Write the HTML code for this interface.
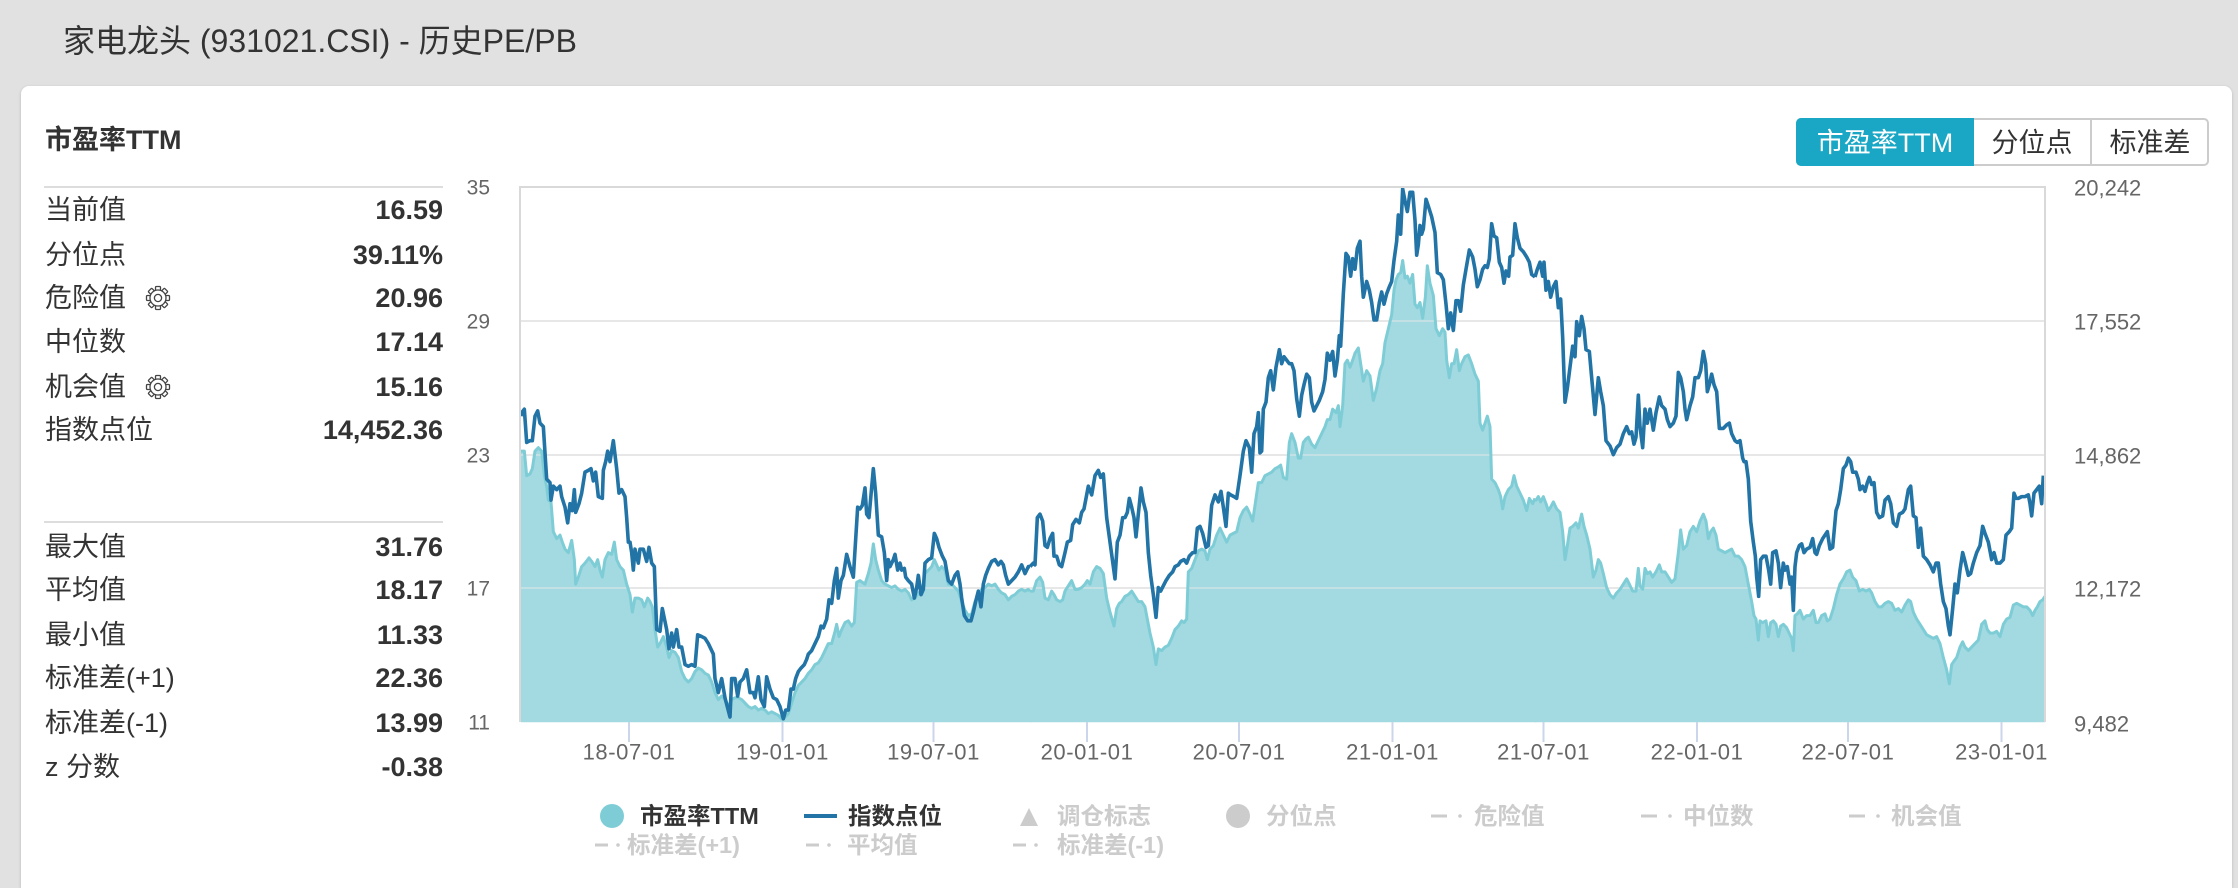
<!DOCTYPE html>
<html><head><meta charset="utf-8"><style>
html,body{margin:0;padding:0;width:2238px;height:888px;overflow:hidden;background:#e1e1e1;position:relative;}
.card{position:absolute;left:21px;top:86px;width:2211px;height:802px;background:#fff;border-radius:8px 8px 0 0;box-shadow:0 1px 3px rgba(0,0,0,.18);}
svg{position:absolute;left:0;top:0;}
text{font-family:"Liberation Sans","Noto Sans CJK SC",sans-serif;}
.ax{font-family:"DejaVu Sans","Liberation Sans",sans-serif;fill:#666;}
</style></head><body>
<div class="card"></div>
<svg width="2238" height="888" viewBox="0 0 2238 888">
<text x="63" y="41" dominant-baseline="central" font-size="32" fill="#333">家电龙头 (931021.CSI) - 历史PE/PB</text>
<text x="45" y="140" dominant-baseline="central" font-size="27" font-weight="700" fill="#333">市盈率TTM</text>

<!-- left stats -->
<line x1="44" y1="187" x2="443" y2="187" stroke="#ddd" stroke-width="2"/>
<line x1="44" y1="522" x2="443" y2="522" stroke="#ddd" stroke-width="2"/>
<g font-size="27" fill="#333" dominant-baseline="central">
<text x="45" y="210">当前值</text>
<text x="45" y="255">分位点</text>
<text x="45" y="298">危险值</text>
<text x="45" y="342">中位数</text>
<text x="45" y="387">机会值</text>
<text x="45" y="430">指数点位</text>
<text x="45" y="547">最大值</text>
<text x="45" y="590">平均值</text>
<text x="45" y="635">最小值</text>
<text x="45" y="678">标准差(+1)</text>
<text x="45" y="723">标准差(-1)</text>
<text x="45" y="767">z 分数</text>
</g>
<g font-size="27" font-weight="700" fill="#333" dominant-baseline="central" text-anchor="end">
<text x="443" y="210">16.59</text>
<text x="443" y="255">39.11%</text>
<text x="443" y="298">20.96</text>
<text x="443" y="342">17.14</text>
<text x="443" y="387">15.16</text>
<text x="443" y="430">14,452.36</text>
<text x="443" y="547">31.76</text>
<text x="443" y="590">18.17</text>
<text x="443" y="635">11.33</text>
<text x="443" y="678">22.36</text>
<text x="443" y="723">13.99</text>
<text x="443" y="767">-0.38</text>
</g>
<g transform="translate(158,298)" stroke="#444" stroke-width="1.3">
<g fill="#fff"><rect x="-2.5" y="-11.5" width="5" height="5.5" rx="1"/><rect x="-2.5" y="-11.5" width="5" height="5.5" rx="1" transform="rotate(45)"/><rect x="-2.5" y="-11.5" width="5" height="5.5" rx="1" transform="rotate(90)"/><rect x="-2.5" y="-11.5" width="5" height="5.5" rx="1" transform="rotate(135)"/><rect x="-2.5" y="-11.5" width="5" height="5.5" rx="1" transform="rotate(180)"/><rect x="-2.5" y="-11.5" width="5" height="5.5" rx="1" transform="rotate(225)"/><rect x="-2.5" y="-11.5" width="5" height="5.5" rx="1" transform="rotate(270)"/><rect x="-2.5" y="-11.5" width="5" height="5.5" rx="1" transform="rotate(315)"/></g>
<circle r="8" fill="#fff"/><circle r="3.6" fill="none"/>
</g>
<g transform="translate(158,387)" stroke="#444" stroke-width="1.3">
<g fill="#fff"><rect x="-2.5" y="-11.5" width="5" height="5.5" rx="1"/><rect x="-2.5" y="-11.5" width="5" height="5.5" rx="1" transform="rotate(45)"/><rect x="-2.5" y="-11.5" width="5" height="5.5" rx="1" transform="rotate(90)"/><rect x="-2.5" y="-11.5" width="5" height="5.5" rx="1" transform="rotate(135)"/><rect x="-2.5" y="-11.5" width="5" height="5.5" rx="1" transform="rotate(180)"/><rect x="-2.5" y="-11.5" width="5" height="5.5" rx="1" transform="rotate(225)"/><rect x="-2.5" y="-11.5" width="5" height="5.5" rx="1" transform="rotate(270)"/><rect x="-2.5" y="-11.5" width="5" height="5.5" rx="1" transform="rotate(315)"/></g>
<circle r="8" fill="#fff"/><circle r="3.6" fill="none"/>
</g>

<!-- toggle buttons -->
<rect x="1797" y="119" width="411" height="46" rx="4" fill="#fff" stroke="#ccc" stroke-width="2"/>
<path d="M1801,118 H1974 V166 H1801 A5,5 0 0 1 1796,161 V123 A5,5 0 0 1 1801,118 Z" fill="#19a7c5"/>
<line x1="2091" y1="119" x2="2091" y2="165" stroke="#ccc" stroke-width="2"/>
<g font-size="27" dominant-baseline="central" text-anchor="middle">
<text x="1885" y="143" fill="#fff">市盈率TTM</text>
<text x="2032" y="143" fill="#333">分位点</text>
<text x="2150" y="143" fill="#333">标准差</text>
</g>

<!-- plot -->
<rect x="520" y="187" width="1525" height="535" fill="#fff"/>
<g stroke="#e3e3e3" stroke-width="2">
<line x1="520" y1="321" x2="2045" y2="321"/><line x1="520" y1="455" x2="2045" y2="455"/><line x1="520" y1="588" x2="2045" y2="588"/>
</g>

<g transform="translate(515,187) scale(0.333333,0.34987) translate(0,-15)">
<polygon fill="#a3d9e1" points="18,770 20,770 28,770 35,840 45,835 52,820 60,770 70,760 80,770 88,840 95,870 100,910 108,915 115,1000 125,1020 135,1010 142,1030 150,1050 160,1060 170,1025 178,1080 182,1150 190,1130 200,1100 210,1090 222,1075 230,1085 240,1100 248,1080 255,1110 262,1130 270,1080 280,1060 290,1065 298,1030 305,1080 315,1100 325,1110 335,1150 345,1180 352,1230 360,1190 370,1190 380,1195 388,1215 398,1190 405,1200 412,1215 420,1280 428,1330 435,1320 445,1300 455,1330 462,1360 470,1340 480,1345 490,1360 500,1400 510,1420 520,1430 530,1420 540,1400 550,1390 560,1395 570,1405 580,1410 590,1430 600,1460 610,1480 620,1470 630,1480 640,1500 650,1480 660,1475 670,1475 680,1480 690,1490 700,1500 710,1505 720,1500 730,1510 740,1505 750,1510 760,1520 770,1515 780,1520 790,1525 800,1535 810,1530 820,1520 830,1490 840,1460 850,1440 860,1430 870,1420 880,1405 890,1395 900,1380 910,1375 920,1360 930,1340 940,1320 950,1320 960,1285 965,1265 972,1300 980,1280 990,1260 1000,1255 1010,1270 1018,1260 1025,1145 1035,1140 1050,1150 1060,1120 1068,1090 1075,1035 1082,1080 1090,1110 1100,1140 1110,1150 1120,1155 1130,1160 1140,1155 1150,1165 1160,1170 1170,1165 1180,1175 1190,1195 1200,1190 1210,1175 1220,1180 1230,1120 1240,1110 1250,1100 1258,1080 1265,1095 1272,1110 1280,1100 1290,1110 1300,1150 1310,1150 1320,1160 1330,1170 1340,1200 1350,1225 1360,1240 1370,1235 1380,1200 1390,1180 1400,1165 1410,1160 1420,1150 1430,1155 1440,1150 1450,1165 1460,1175 1470,1180 1480,1195 1490,1185 1500,1180 1510,1170 1520,1165 1530,1170 1540,1165 1548,1170 1548,1545 18,1545"/>
</g>
<g transform="translate(1030,187) scale(0.333333,0.34987) translate(0,-15)">
<polygon fill="#a3d9e1" points="0,1170 10,1170 20,1140 30,1130 38,1145 45,1190 55,1195 65,1170 72,1180 80,1195 90,1200 98,1195 105,1170 115,1155 125,1140 135,1165 145,1165 155,1160 165,1150 172,1140 180,1150 190,1115 200,1100 210,1105 220,1120 230,1190 240,1230 252,1270 260,1220 268,1205 275,1200 285,1185 295,1180 305,1170 315,1185 325,1200 335,1200 345,1215 352,1250 360,1290 370,1330 378,1380 385,1335 395,1340 405,1330 415,1325 425,1305 435,1280 445,1270 455,1255 462,1260 470,1250 475,1115 485,1105 495,1080 505,1055 515,1050 525,1055 532,1080 540,1050 550,1040 560,1010 570,990 580,1010 590,1030 600,1010 610,1005 620,1000 630,960 640,940 650,930 660,950 668,970 675,925 685,860 695,860 705,840 715,835 725,830 735,820 745,815 752,810 760,845 770,850 778,745 785,720 795,745 805,790 812,790 820,745 828,735 835,730 845,750 855,760 865,740 875,720 885,700 892,680 900,680 908,650 918,660 925,640 930,700 938,640 945,520 952,510 960,530 968,510 975,490 985,475 992,520 1000,570 1010,540 1020,555 1030,625 1040,590 1050,540 1058,520 1065,460 1075,420 1085,380 1092,310 1098,280 1105,265 1112,260 1118,225 1125,275 1132,270 1140,290 1148,265 1155,350 1162,360 1170,345 1178,390 1186,330 1192,240 1200,290 1210,325 1218,420 1228,440 1238,420 1245,430 1250,510 1258,560 1265,520 1272,520 1280,480 1288,540 1295,520 1305,500 1315,495 1325,520 1335,550 1345,570 1350,690 1358,710 1365,690 1372,670 1380,700 1385,850 1395,860 1405,880 1412,900 1418,935 1425,900 1435,880 1445,870 1452,840 1460,870 1470,890 1480,910 1490,940 1498,905 1508,920 1518,905 1518,1545 0,1545"/>
</g>
<g transform="translate(1530,187) scale(0.333333,0.34987) translate(0,-15)">
<polygon fill="#a3d9e1" points="15,905 18,910 25,900 32,915 40,900 48,920 55,940 62,930 70,915 80,935 90,945 98,1000 105,1080 112,1040 120,990 128,985 138,975 145,990 155,950 162,985 170,1010 180,1050 190,1130 198,1110 205,1080 212,1090 220,1120 230,1160 240,1180 250,1190 260,1175 270,1165 280,1150 290,1135 298,1150 308,1170 318,1170 325,1105 330,1155 338,1165 345,1105 352,1120 360,1115 368,1130 378,1115 388,1095 395,1115 405,1115 415,1130 425,1145 435,1135 445,1060 452,995 460,1050 470,1040 480,1000 490,985 500,1000 510,970 520,950 528,970 535,1020 542,1000 550,990 558,1010 565,1050 575,1055 585,1060 595,1055 605,1050 615,1070 625,1070 635,1080 645,1100 655,1150 665,1200 672,1240 678,1250 685,1310 690,1255 698,1260 708,1255 715,1300 722,1260 730,1255 738,1265 745,1300 752,1270 760,1265 770,1275 780,1295 785,1305 790,1340 795,1240 802,1235 810,1225 820,1250 830,1240 840,1240 850,1225 858,1260 865,1260 875,1240 885,1235 892,1255 900,1250 910,1220 920,1180 930,1150 940,1135 950,1115 960,1110 968,1130 978,1140 988,1170 998,1165 1008,1170 1018,1165 1025,1175 1035,1200 1045,1215 1055,1215 1065,1205 1075,1200 1085,1205 1095,1225 1105,1220 1115,1230 1125,1210 1135,1195 1142,1200 1150,1230 1160,1250 1170,1265 1180,1280 1190,1295 1200,1300 1210,1305 1220,1300 1230,1320 1240,1360 1250,1395 1258,1435 1265,1380 1272,1370 1280,1360 1290,1330 1298,1315 1305,1330 1315,1340 1325,1330 1335,1320 1345,1310 1355,1265 1365,1255 1372,1280 1380,1290 1390,1290 1400,1285 1410,1300 1420,1265 1430,1250 1440,1245 1450,1210 1460,1205 1470,1210 1480,1215 1490,1215 1500,1225 1508,1240 1515,1225 1522,1215 1530,1200 1538,1195 1545,1185 1545,1545 15,1545"/>
</g>

<!-- faint gridlines over area -->
<g stroke="rgba(235,235,235,0.45)" stroke-width="2">
<line x1="520" y1="321" x2="2045" y2="321"/><line x1="520" y1="455" x2="2045" y2="455"/><line x1="520" y1="588" x2="2045" y2="588"/>
</g>

<!-- PE lines -->
<g fill="none" stroke="#7ecdd6" stroke-width="3" stroke-linejoin="round">
<polyline vector-effect="non-scaling-stroke" transform="translate(515,187) scale(0.333333,0.34987) translate(0,-15)" points="18,770 20,770 28,770 35,840 45,835 52,820 60,770 70,760 80,770 88,840 95,870 100,910 108,915 115,1000 125,1020 135,1010 142,1030 150,1050 160,1060 170,1025 178,1080 182,1150 190,1130 200,1100 210,1090 222,1075 230,1085 240,1100 248,1080 255,1110 262,1130 270,1080 280,1060 290,1065 298,1030 305,1080 315,1100 325,1110 335,1150 345,1180 352,1230 360,1190 370,1190 380,1195 388,1215 398,1190 405,1200 412,1215 420,1280 428,1330 435,1320 445,1300 455,1330 462,1360 470,1340 480,1345 490,1360 500,1400 510,1420 520,1430 530,1420 540,1400 550,1390 560,1395 570,1405 580,1410 590,1430 600,1460 610,1480 620,1470 630,1480 640,1500 650,1480 660,1475 670,1475 680,1480 690,1490 700,1500 710,1505 720,1500 730,1510 740,1505 750,1510 760,1520 770,1515 780,1520 790,1525 800,1535 810,1530 820,1520 830,1490 840,1460 850,1440 860,1430 870,1420 880,1405 890,1395 900,1380 910,1375 920,1360 930,1340 940,1320 950,1320 960,1285 965,1265 972,1300 980,1280 990,1260 1000,1255 1010,1270 1018,1260 1025,1145 1035,1140 1050,1150 1060,1120 1068,1090 1075,1035 1082,1080 1090,1110 1100,1140 1110,1150 1120,1155 1130,1160 1140,1155 1150,1165 1160,1170 1170,1165 1180,1175 1190,1195 1200,1190 1210,1175 1220,1180 1230,1120 1240,1110 1250,1100 1258,1080 1265,1095 1272,1110 1280,1100 1290,1110 1300,1150 1310,1150 1320,1160 1330,1170 1340,1200 1350,1225 1360,1240 1370,1235 1380,1200 1390,1180 1400,1165 1410,1160 1420,1150 1430,1155 1440,1150 1450,1165 1460,1175 1470,1180 1480,1195 1490,1185 1500,1180 1510,1170 1520,1165 1530,1170 1540,1165 1545,1170"/>
<polyline vector-effect="non-scaling-stroke" transform="translate(1030,187) scale(0.333333,0.34987) translate(0,-15)" points="0,1170 10,1170 20,1140 30,1130 38,1145 45,1190 55,1195 65,1170 72,1180 80,1195 90,1200 98,1195 105,1170 115,1155 125,1140 135,1165 145,1165 155,1160 165,1150 172,1140 180,1150 190,1115 200,1100 210,1105 220,1120 230,1190 240,1230 252,1270 260,1220 268,1205 275,1200 285,1185 295,1180 305,1170 315,1185 325,1200 335,1200 345,1215 352,1250 360,1290 370,1330 378,1380 385,1335 395,1340 405,1330 415,1325 425,1305 435,1280 445,1270 455,1255 462,1260 470,1250 475,1115 485,1105 495,1080 505,1055 515,1050 525,1055 532,1080 540,1050 550,1040 560,1010 570,990 580,1010 590,1030 600,1010 610,1005 620,1000 630,960 640,940 650,930 660,950 668,970 675,925 685,860 695,860 705,840 715,835 725,830 735,820 745,815 752,810 760,845 770,850 778,745 785,720 795,745 805,790 812,790 820,745 828,735 835,730 845,750 855,760 865,740 875,720 885,700 892,680 900,680 908,650 918,660 925,640 930,700 938,640 945,520 952,510 960,530 968,510 975,490 985,475 992,520 1000,570 1010,540 1020,555 1030,625 1040,590 1050,540 1058,520 1065,460 1075,420 1085,380 1092,310 1098,280 1105,265 1112,260 1118,225 1125,275 1132,270 1140,290 1148,265 1155,350 1162,360 1170,345 1178,390 1186,330 1192,240 1200,290 1210,325 1218,420 1228,440 1238,420 1245,430 1250,510 1258,560 1265,520 1272,520 1280,480 1288,540 1295,520 1305,500 1315,495 1325,520 1335,550 1345,570 1350,690 1358,710 1365,690 1372,670 1380,700 1385,850 1395,860 1405,880 1412,900 1418,935 1425,900 1435,880 1445,870 1452,840 1460,870 1470,890 1480,910 1490,940 1498,905 1508,920 1515,905"/>
<polyline vector-effect="non-scaling-stroke" transform="translate(1530,187) scale(0.333333,0.34987) translate(0,-15)" points="15,905 18,910 25,900 32,915 40,900 48,920 55,940 62,930 70,915 80,935 90,945 98,1000 105,1080 112,1040 120,990 128,985 138,975 145,990 155,950 162,985 170,1010 180,1050 190,1130 198,1110 205,1080 212,1090 220,1120 230,1160 240,1180 250,1190 260,1175 270,1165 280,1150 290,1135 298,1150 308,1170 318,1170 325,1105 330,1155 338,1165 345,1105 352,1120 360,1115 368,1130 378,1115 388,1095 395,1115 405,1115 415,1130 425,1145 435,1135 445,1060 452,995 460,1050 470,1040 480,1000 490,985 500,1000 510,970 520,950 528,970 535,1020 542,1000 550,990 558,1010 565,1050 575,1055 585,1060 595,1055 605,1050 615,1070 625,1070 635,1080 645,1100 655,1150 665,1200 672,1240 678,1250 685,1310 690,1255 698,1260 708,1255 715,1300 722,1260 730,1255 738,1265 745,1300 752,1270 760,1265 770,1275 780,1295 785,1305 790,1340 795,1240 802,1235 810,1225 820,1250 830,1240 840,1240 850,1225 858,1260 865,1260 875,1240 885,1235 892,1255 900,1250 910,1220 920,1180 930,1150 940,1135 950,1115 960,1110 968,1130 978,1140 988,1170 998,1165 1008,1170 1018,1165 1025,1175 1035,1200 1045,1215 1055,1215 1065,1205 1075,1200 1085,1205 1095,1225 1105,1220 1115,1230 1125,1210 1135,1195 1142,1200 1150,1230 1160,1250 1170,1265 1180,1280 1190,1295 1200,1300 1210,1305 1220,1300 1230,1320 1240,1360 1250,1395 1258,1435 1265,1380 1272,1370 1280,1360 1290,1330 1298,1315 1305,1330 1315,1340 1325,1330 1335,1320 1345,1310 1355,1265 1365,1255 1372,1280 1380,1290 1390,1290 1400,1285 1410,1300 1420,1265 1430,1250 1440,1245 1450,1210 1460,1205 1470,1210 1480,1215 1490,1215 1500,1225 1508,1240 1515,1225 1522,1215 1530,1200 1538,1195 1545,1185"/>
</g>

<!-- index line -->
<g fill="none" stroke="#2174a5" stroke-width="3.6" stroke-linejoin="round">
<polyline vector-effect="non-scaling-stroke" transform="translate(515,187) scale(0.333333,0.34987) translate(0,-15)" points="18,670 20,660 28,650 35,745 45,740 52,740 60,670 68,655 75,690 85,700 95,850 105,860 108,910 115,870 125,880 135,870 140,900 150,930 158,975 165,920 172,940 178,880 182,945 192,920 200,890 210,830 220,825 228,820 235,855 242,830 250,900 262,905 265,825 272,800 278,770 285,800 295,740 305,820 312,890 320,880 330,900 335,960 340,1030 345,1030 350,1060 355,1110 360,1050 370,1090 375,1050 385,1050 395,1085 402,1045 410,1090 418,1100 425,1280 435,1285 442,1220 455,1280 462,1335 470,1290 475,1330 485,1280 492,1330 500,1330 510,1380 520,1385 530,1380 540,1385 548,1295 560,1300 570,1305 580,1320 595,1350 600,1420 610,1460 620,1420 630,1475 645,1530 650,1420 660,1420 668,1470 675,1430 685,1420 695,1395 705,1460 715,1460 720,1475 730,1415 738,1480 748,1500 755,1415 765,1450 775,1475 785,1480 795,1500 805,1535 812,1510 820,1510 828,1450 835,1450 842,1420 850,1400 858,1390 868,1380 875,1365 880,1350 890,1340 900,1320 910,1300 918,1270 925,1275 935,1250 942,1195 950,1205 958,1140 965,1105 970,1190 978,1140 985,1125 995,1065 1005,1100 1015,1130 1028,930 1035,935 1042,925 1050,875 1055,950 1062,960 1068,895 1075,820 1082,890 1090,1010 1100,1015 1108,1060 1115,1140 1120,1080 1125,1100 1135,1080 1140,1065 1148,1110 1155,1090 1160,1110 1168,1105 1172,1130 1180,1140 1190,1150 1198,1190 1205,1160 1210,1125 1218,1180 1225,1165 1230,1090 1240,1080 1250,1075 1258,1005 1265,1020 1272,1045 1282,1070 1290,1085 1300,1140 1310,1150 1320,1125 1328,1115 1335,1150 1340,1190 1348,1240 1358,1255 1368,1255 1375,1230 1382,1200 1390,1170 1398,1215 1405,1150 1412,1125 1420,1105 1430,1085 1440,1080 1450,1095 1458,1085 1465,1095 1472,1125 1480,1150 1490,1140 1500,1130 1510,1115 1520,1095 1530,1120 1540,1100 1545,1100"/>
<polyline vector-effect="non-scaling-stroke" transform="translate(1030,187) scale(0.333333,0.34987) translate(0,-15)" points="0,1100 10,1090 15,1095 22,960 30,950 38,970 45,1040 52,1045 60,1020 68,1005 72,1070 80,1070 88,1095 95,1100 105,1060 112,1030 122,1025 128,980 138,965 148,975 155,945 162,935 168,905 175,870 185,895 195,840 205,825 212,845 220,835 230,960 245,1065 255,1135 262,1030 270,1010 278,960 285,960 292,945 298,905 305,930 312,960 318,1015 325,950 333,875 340,915 348,945 355,1060 362,1125 370,1180 378,1245 385,1160 392,1170 400,1155 408,1140 418,1125 428,1115 435,1100 445,1095 452,1085 462,1080 470,1090 478,1070 488,1060 495,1060 502,990 510,985 518,1005 528,1045 535,1040 545,925 555,895 565,915 573,885 580,930 588,985 595,890 602,895 612,900 620,905 630,840 640,770 648,740 658,760 665,830 672,720 680,700 685,660 690,775 695,770 700,650 708,630 715,560 722,540 730,595 738,530 748,480 755,520 762,500 770,510 778,520 785,520 792,540 800,620 808,670 815,610 822,580 830,550 838,560 845,630 852,655 860,640 868,625 878,600 885,565 892,490 900,510 908,485 915,555 922,510 928,440 932,470 940,320 948,205 955,215 962,270 968,220 975,250 982,190 990,170 995,270 1000,330 1010,285 1018,310 1025,345 1032,395 1040,395 1048,345 1055,315 1062,350 1070,320 1078,300 1085,285 1092,225 1100,170 1105,95 1112,150 1118,20 1125,55 1132,85 1140,30 1148,30 1155,110 1160,210 1165,180 1170,125 1175,150 1180,135 1188,50 1195,70 1205,100 1215,145 1222,260 1232,265 1240,280 1248,350 1255,420 1262,375 1270,425 1278,340 1285,340 1292,370 1300,295 1308,250 1318,195 1328,215 1335,250 1342,300 1350,280 1358,250 1365,240 1372,245 1378,220 1385,120 1392,155 1400,160 1408,230 1415,245 1422,290 1428,255 1436,270 1440,215 1448,210 1455,120 1462,160 1470,190 1480,200 1490,215 1498,230 1505,265 1515,272"/>
<polyline vector-effect="non-scaling-stroke" transform="translate(1530,187) scale(0.333333,0.34987) translate(0,-15)" points="15,272 22,250 30,230 38,270 42,230 48,310 55,285 62,330 70,300 78,285 85,360 92,335 98,445 105,630 112,590 120,530 128,470 135,500 140,400 148,440 155,385 162,420 168,480 178,485 185,560 195,665 205,560 212,600 220,640 228,740 240,755 250,780 260,760 270,750 280,720 290,700 298,720 305,715 312,750 318,730 325,610 330,700 338,760 345,650 352,690 360,650 370,710 378,660 388,615 395,640 405,650 412,680 420,700 430,690 438,670 445,545 452,560 460,600 465,650 470,680 480,640 488,615 495,560 505,560 512,540 520,485 527,520 532,600 538,580 545,550 552,580 560,600 568,705 580,705 590,695 598,690 605,720 615,740 622,745 630,740 638,790 642,800 648,800 655,850 662,970 670,1030 676,1070 680,1130 686,1185 692,1080 700,1070 708,1070 716,1110 722,1150 728,1060 738,1055 745,1090 752,1160 760,1090 765,1110 772,1100 780,1150 785,1130 790,1225 795,1100 800,1060 808,1040 815,1035 822,1060 830,1050 840,1045 848,1020 855,1060 860,1065 868,1040 878,1020 885,1010 892,1000 900,1050 908,1045 918,940 925,920 932,880 940,820 948,810 955,790 962,800 968,830 978,830 985,850 990,880 998,870 1005,885 1012,860 1018,845 1025,865 1032,860 1040,945 1048,960 1058,955 1065,910 1075,900 1082,920 1090,975 1100,985 1108,950 1118,945 1125,935 1135,880 1142,870 1150,955 1158,960 1165,1045 1172,990 1180,1070 1190,1080 1200,1095 1210,1115 1218,1090 1225,1090 1232,1150 1240,1200 1248,1220 1255,1270 1260,1295 1268,1220 1275,1150 1282,1175 1290,1110 1298,1060 1305,1085 1315,1125 1322,1120 1330,1090 1340,1060 1350,1040 1358,985 1365,1005 1375,1030 1385,1080 1392,1060 1400,1090 1410,1090 1420,1080 1428,1010 1438,1000 1445,990 1452,890 1458,905 1465,905 1475,900 1485,900 1495,895 1500,920 1505,955 1512,890 1520,880 1528,870 1535,920 1540,840"/>
</g>

<!-- plot border -->
<path d="M520,722 V187 H2045 V722" fill="none" stroke="#d9d9d9" stroke-width="2"/>

<!-- x ticks -->
<g stroke="#ccd6eb" stroke-width="2">
<line x1="629" y1="722" x2="629" y2="742"/><line x1="782.5" y1="722" x2="782.5" y2="742"/><line x1="933.5" y1="722" x2="933.5" y2="742"/><line x1="1087" y1="722" x2="1087" y2="742"/><line x1="1239" y1="722" x2="1239" y2="742"/><line x1="1392.5" y1="722" x2="1392.5" y2="742"/><line x1="1543.5" y1="722" x2="1543.5" y2="742"/><line x1="1697" y1="722" x2="1697" y2="742"/><line x1="1848" y1="722" x2="1848" y2="742"/><line x1="2001.5" y1="722" x2="2001.5" y2="742"/>
</g>
<g class="ax" font-size="22" letter-spacing="0.6" text-anchor="middle" dominant-baseline="central">
<text x="629" y="752">18-07-01</text><text x="782.5" y="752">19-01-01</text><text x="933.5" y="752">19-07-01</text><text x="1087" y="752">20-01-01</text><text x="1239" y="752">20-07-01</text><text x="1392.5" y="752">21-01-01</text><text x="1543.5" y="752">21-07-01</text><text x="1697" y="752">22-01-01</text><text x="1848" y="752">22-07-01</text><text x="2001.5" y="752">23-01-01</text>
</g>
<g class="ax" font-size="21" text-anchor="end" dominant-baseline="central">
<text x="490" y="188">35</text><text x="490" y="322">29</text><text x="490" y="456">23</text><text x="490" y="589">17</text><text x="490" y="723">11</text>
</g>
<g class="ax" font-size="22" text-anchor="start" dominant-baseline="central">
<text x="2074" y="188">20,242</text><text x="2074" y="322">17,552</text><text x="2074" y="456">14,862</text><text x="2074" y="589">12,172</text><text x="2074" y="724">9,482</text>
</g>

<!-- legend -->
<g font-size="23.5" font-weight="700" dominant-baseline="central">
<circle cx="612" cy="816" r="12" fill="#7ecdd6"/>
<text x="640" y="816" fill="#333">市盈率TTM</text>
<line x1="804" y1="816" x2="837" y2="816" stroke="#2174a5" stroke-width="4"/>
<text x="848" y="816" fill="#333">指数点位</text>
<polygon points="1020,826 1029,808 1038,826" fill="#ccc"/>
<text x="1057" y="816" fill="#ccc">调仓标志</text>
<circle cx="1238" cy="816" r="12" fill="#ccc"/>
<text x="1266" y="816" fill="#ccc">分位点</text>
<g stroke="#ccc" stroke-width="3">
<line x1="1431" y1="816" x2="1447" y2="816"/><line x1="1641" y1="816" x2="1657" y2="816"/><line x1="1849" y1="816" x2="1865" y2="816"/>
<line x1="595" y1="845" x2="608" y2="845"/><line x1="806" y1="845" x2="819" y2="845"/><line x1="1013" y1="845" x2="1026" y2="845"/>
</g>
<g fill="#ccc">
<circle cx="1460" cy="816" r="1.8"/><circle cx="1670" cy="816" r="1.8"/><circle cx="1878" cy="816" r="1.8"/>
<circle cx="618" cy="845" r="1.8"/><circle cx="829" cy="845" r="1.8"/><circle cx="1036" cy="845" r="1.8"/>
</g>
<text x="1474" y="816" fill="#ccc">危险值</text>
<text x="1683" y="816" fill="#ccc">中位数</text>
<text x="1891" y="816" fill="#ccc">机会值</text>
<text x="627" y="845" fill="#ccc">标准差(+1)</text>
<text x="847" y="845" fill="#ccc">平均值</text>
<text x="1057" y="845" fill="#ccc">标准差(-1)</text>
</g>
</svg>
</body></html>
